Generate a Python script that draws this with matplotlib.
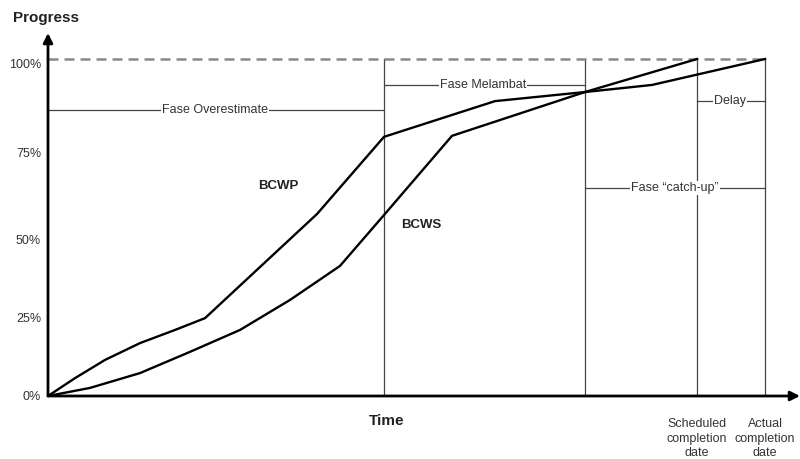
import matplotlib
matplotlib.use("Agg")
import matplotlib.pyplot as plt

plt.rcParams['font.family'] = ['Liberation Sans', 'DejaVu Sans']

# Data (time in arbitrary units, progress in %)
bcwp_t = [0, 27, 57, 92, 127, 157, 269, 336, 447, 537, 604, 717]
bcwp_p = [0, 5.3, 10.7, 15.7, 19.6, 23.1, 54.0, 76.9, 87.5, 90.2, 92.3, 100]
bcws_t = [0, 42, 92, 142, 192, 242, 292, 336, 404, 537, 649]
bcws_p = [0, 2.4, 6.8, 13.1, 19.6, 28.5, 38.6, 53.7, 77.2, 90.2, 100]

ytick_pos = [0, 23.4, 46.3, 72.4, 98.8]
ytick_labels = ["0%", "25%", "50%", "75%", "100%"]

phase_bounds = [336, 537, 649, 717]  # end of overestimate, end of melambat, scheduled, actual

phases = [
    # label, x_start, x_end, y, text_x
    ("Fase Overestimate", 0, 336, 84.9, 167),
    ("Fase Melambat", 336, 537, 92.4, 435),
    ("Delay", 649, 717, 87.5, 682),
    ("Fase \u201ccatch-up\u201d", 537, 717, 61.7, 627),
]

fig = plt.figure(figsize=(8, 4.59), dpi=100)
ax = fig.add_axes([48/800, 63/459, 752/800, 363/459])
ax.set_xlim(0, 752)
ax.set_ylim(0, 363/3.37)

for s in ax.spines.values():
    s.set_visible(False)
ax.set_xticks([])
ax.set_yticks(ytick_pos)
ax.set_yticklabels(ytick_labels, fontsize=9, color='#333333')
ax.tick_params(axis='y', length=0, pad=5)

gray = '#444444'
# 100% dashed line
ax.plot([0, phase_bounds[-1]], [100, 100], color='#888888', lw=1.8,
        linestyle=(0, (4, 2.4)), zorder=2)
# vertical phase lines
for xb in phase_bounds:
    ax.plot([xb, xb], [0, 100], color=gray, lw=0.9, zorder=1)

# phase annotation lines with labels
for label, x0, x1, y, tx in phases:
    ax.plot([x0, x1], [y, y], color=gray, lw=0.9, zorder=1)
    ax.text(tx, y, label, ha='center', va='center', fontsize=9, color='#333333',
            zorder=5, bbox=dict(facecolor='white', edgecolor='none', pad=0.6))

# curves
ax.plot(bcwp_t, bcwp_p, color='black', lw=1.7, zorder=4, solid_joinstyle='round')
ax.plot(bcws_t, bcws_p, color='black', lw=1.7, zorder=4, solid_joinstyle='round')

ax.text(230, 62.3, "BCWP", fontsize=9.5, fontweight='bold', color='#222222',
        ha='center', va='center')
ax.text(373, 50.6, "BCWS", fontsize=9.5, fontweight='bold', color='#222222',
        ha='center', va='center')

# axes arrows
ax.annotate('', xy=(1.0, 0), xytext=(0, 0), xycoords='axes fraction',
            arrowprops=dict(arrowstyle='-|>', lw=2, color='black', mutation_scale=14,
                            shrinkA=0, shrinkB=0))
ax.annotate('', xy=(0, 1.0), xytext=(0, 0), xycoords='axes fraction',
            arrowprops=dict(arrowstyle='-|>', lw=2, color='black', mutation_scale=14,
                            shrinkA=0, shrinkB=0))

# axis titles
fig.text(46/800, 1 - 18/459, "Progress", fontsize=11, fontweight='bold',
         ha='center', va='center', color='#222222')
fig.text(387/800, 1 - 421/459, "Time", fontsize=11, fontweight='bold',
         ha='center', va='center', color='#222222')

# completion date labels
ax.text(phase_bounds[2], -6.5, "Scheduled\ncompletion\ndate", fontsize=9, color='#333333',
        ha='center', va='top', linespacing=1.3)
ax.text(phase_bounds[3], -6.5, "Actual\ncompletion\ndate", fontsize=9, color='#333333',
        ha='center', va='top', linespacing=1.3)

fig.savefig("out.png", dpi=100)
